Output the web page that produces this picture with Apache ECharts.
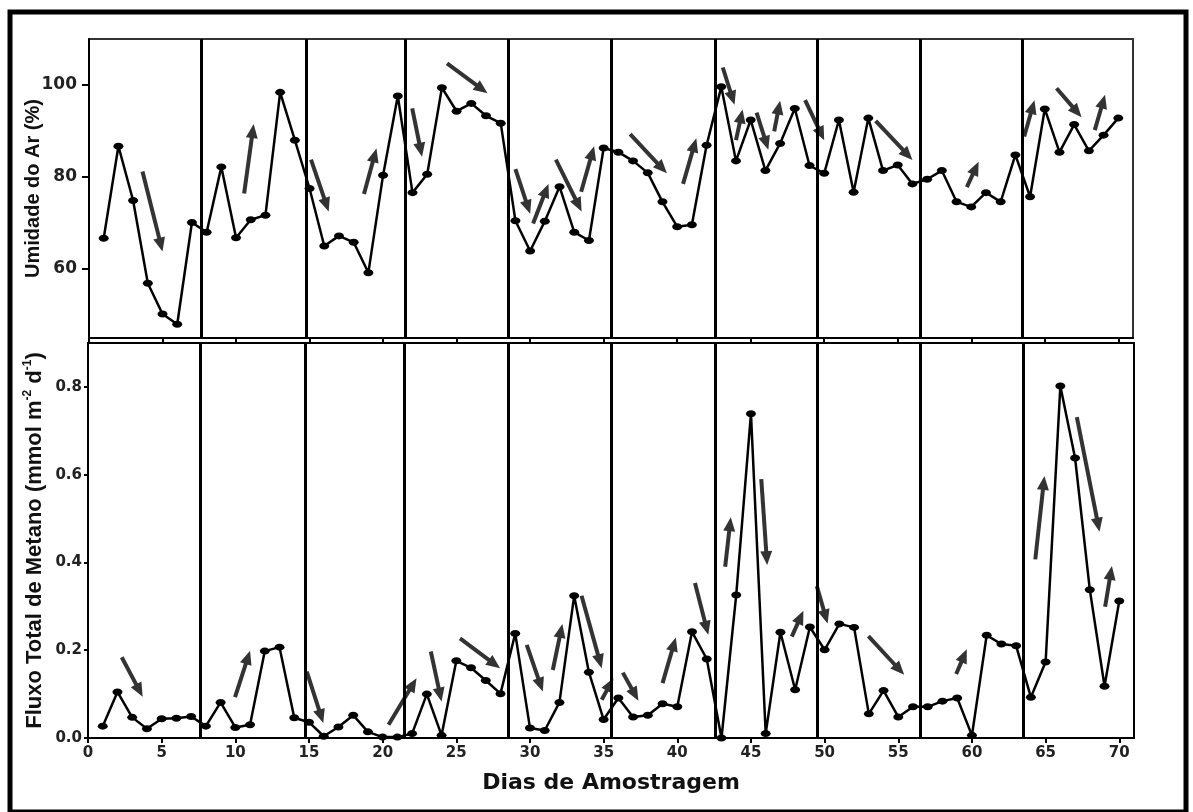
<!DOCTYPE html>
<html>
<head>
<meta charset="utf-8">
<script src="https://cdn.jsdelivr.net/npm/echarts@6/dist/echarts.min.js"></script>
<style>html,body{margin:0;padding:0;background:#fff;}#c{width:1193px;height:812px;}</style>
</head>
<body>
<div id="c"></div>
<script>
// ---- data ----
const days = [1,2,3,4,5,6,7,8,9,10,11,12,13,14,15,16,17,18,19,20,21,22,23,24,25,26,27,28,29,30,31,32,33,34,35,36,37,38,39,40,41,42,43,44,45,46,47,48,49,50,51,52,53,54,55,56,57,58,59,60,61,62,63,64,65,66,67,68,69,70];
const umidade = [66.7,86.7,74.9,56.9,50.2,48.0,70.1,68.0,82.2,66.8,70.7,71.7,98.4,88.0,77.5,65.0,67.2,65.8,59.2,80.4,97.6,76.6,80.6,99.4,94.3,96.0,93.3,91.7,70.5,63.9,70.4,77.9,68.0,66.2,86.3,85.4,83.5,80.9,74.6,69.2,69.6,86.9,99.6,83.5,92.4,81.4,87.3,94.9,82.5,80.8,92.4,76.7,92.8,81.4,82.6,78.5,79.5,81.4,74.6,73.5,76.6,74.6,84.8,75.7,94.8,85.4,91.4,85.7,89.1,92.8];
const metano = [0.027,0.105,0.047,0.021,0.044,0.045,0.049,0.027,0.081,0.024,0.030,0.198,0.207,0.046,0.036,0.004,0.025,0.052,0.014,0.002,0.002,0.010,0.100,0.006,0.176,0.160,0.131,0.101,0.238,0.023,0.017,0.081,0.324,0.150,0.042,0.091,0.048,0.052,0.078,0.071,0.242,0.180,0.000,0.326,0.739,0.010,0.241,0.110,0.253,0.201,0.260,0.252,0.055,0.108,0.048,0.071,0.071,0.084,0.091,0.006,0.234,0.214,0.210,0.093,0.173,0.802,0.638,0.338,0.118,0.312];
const periodBreaks = [7.6,14.75,21.5,28.5,35.5,42.6,49.5,56.5,63.5];
const xTicks = [0,5,10,15,20,25,30,35,40,45,50,55,60,65,70];
const yTicksUmidade = [60,80,100];
const yTicksMetano = [0,0.2,0.4,0.6,0.8];
// arrows: [xStart, yStart, xEnd, yEnd] in data units
const arrowsUmidade = [
  [3.64,81.2,5.0,63.8],[10.55,76.4,11.2,91.5],[15.1,83.8,16.3,72.5],[18.7,76.3,19.55,86.2],
  [21.98,94.9,22.65,84.4],[24.35,104.7,27.1,98.2],[29.0,81.7,30.0,72.0],[30.2,69.9,31.25,78.5],
  [31.75,83.8,33.5,72.5],[33.47,76.8,34.35,86.7],[36.8,89.3,39.3,80.8],[40.4,78.5,41.3,88.4],
  [43.1,103.8,43.9,95.7],[44.0,88.0,44.45,94.7],[45.4,94.0,46.2,85.9],[46.6,89.9,47.0,96.6],
  [48.7,96.7,50.0,88.0],[53.5,92.2,56.0,83.7],[59.7,77.8,60.5,83.3],[63.6,88.8,64.3,96.7],
  [65.8,99.3,67.5,93.0],[68.4,90.2,69.1,97.9]
];
const arrowsMetano = [
  [2.29,0.184,3.71,0.094],[9.98,0.093,11.0,0.199],[14.85,0.151,15.97,0.034],[20.4,0.03,22.3,0.136],
  [23.27,0.197,24.0,0.083],[25.25,0.227,27.97,0.159],[29.78,0.212,30.87,0.106],[31.55,0.155,32.2,0.26],
  [33.5,0.324,34.87,0.159],[34.87,0.087,35.66,0.136],[36.3,0.149,37.36,0.085],[39.0,0.125,39.9,0.229],
  [41.2,0.353,42.1,0.235],[43.25,0.39,43.63,0.503],[45.7,0.59,46.1,0.394],[47.77,0.231,48.56,0.29],
  [49.47,0.346,50.2,0.261],[52.97,0.232,55.4,0.144],[58.93,0.146,59.65,0.202],[64.3,0.407,64.92,0.597],
  [67.12,0.731,68.66,0.47],[69.04,0.299,69.5,0.392]
];

// ---- chart ----
const FONT = 'DejaVu Sans, Arial, sans-serif';
const NAMEFONT = 'Liberation Sans, Arial, sans-serif';
const chart = echarts.init(document.getElementById('c'), null, {renderer:'canvas'});

function renderArrow(params, api) {
  const p0 = api.coord([api.value(0), api.value(1)]);
  const p1 = api.coord([api.value(2), api.value(3)]);
  const dx = p1[0]-p0[0], dy = p1[1]-p0[1];
  const len = Math.hypot(dx, dy) || 1;
  const ux = dx/len, uy = dy/len;
  const hl = 14, hw = 6;
  const bx = p1[0]-ux*hl, by = p1[1]-uy*hl;
  return {type:'group', children:[
    {type:'line', shape:{x1:p0[0], y1:p0[1], x2:bx+ux*2, y2:by+uy*2}, style:{stroke:'#333', lineWidth:4}},
    {type:'polygon', shape:{points:[[p1[0],p1[1]],[bx-uy*hw, by+ux*hw],[bx+uy*hw, by-ux*hw]]}, style:{fill:'#333'}}
  ]};
}

const breakLine = {
  silent:true, symbol:'none', animation:false,
  label:{show:false},
  lineStyle:{color:'#000', width:3, type:'solid'},
  data: periodBreaks.map(v => ({xAxis:v}))
};

const xAxisBase = {
  type:'value', min:0, max:71,
  axisLine:{show:true, lineStyle:{color:'#000', width:2}},
  axisTick:{show:true, length:5, lineStyle:{color:'#000', width:2}, customValues:xTicks},
  splitLine:{show:false}
};

const option = {
  animation:false,
  backgroundColor:'#fff',
  graphic:[{type:'rect', shape:{x:10, y:12, width:1176, height:800}, style:{fill:'none', stroke:'#000', lineWidth:5}, silent:true}],
  grid:[
    {left:89, top:39, width:1044, height:299, show:true, borderColor:'#333', borderWidth:2, backgroundColor:'transparent'},
    {left:88, top:343, width:1046, height:395, show:true, borderColor:'#000', borderWidth:2, backgroundColor:'transparent'}
  ],
  xAxis:[
    Object.assign({}, xAxisBase, {gridIndex:0, axisLabel:{show:false}}),
    Object.assign({}, xAxisBase, {gridIndex:1,
      axisLabel:{show:true, customValues:xTicks, margin:8, color:'#222', fontFamily:FONT, fontWeight:'bold', fontSize:15},
      name:'Dias de Amostragem', nameLocation:'middle', nameGap:34, nameMoveOverlap:false,
      nameTextStyle:{color:'#111', fontFamily:FONT, fontWeight:'bold', fontSize:22}
    })
  ],
  yAxis:[
    {type:'value', gridIndex:0, min:45, max:110,
      axisLine:{show:true, lineStyle:{color:'#000', width:2}},
      axisTick:{show:true, length:7, lineStyle:{color:'#000', width:2}, customValues:yTicksUmidade},
      axisLabel:{customValues:yTicksUmidade, margin:12, color:'#222', fontFamily:FONT, fontWeight:'bold', fontSize:17},
      splitLine:{show:false},
      name:'Umidade do Ar (%)', nameLocation:'middle', nameGap:46, nameMoveOverlap:false,
      nameTextStyle:{color:'#111', fontFamily:NAMEFONT, fontWeight:'bold', fontSize:20}
    },
    {type:'value', gridIndex:1, min:0, max:0.9,
      axisLine:{show:true, lineStyle:{color:'#000', width:2}},
      axisTick:{show:true, length:4, lineStyle:{color:'#000', width:2}, customValues:yTicksMetano},
      axisLabel:{customValues:yTicksMetano, margin:6, color:'#222', fontFamily:FONT, fontWeight:'bold', fontSize:15,
        formatter:v => v.toFixed(1)},
      splitLine:{show:false},
      name:'Fluxo Total de Metano (mmol m{s|-2} d{s|-1})', nameLocation:'middle', nameGap:40, nameMoveOverlap:false,
      nameTextStyle:{color:'#111', fontFamily:NAMEFONT, fontWeight:'bold', fontSize:22, lineHeight:26,
        rich:{s:{fontFamily:NAMEFONT, fontWeight:'bold', fontSize:12, color:'#111', verticalAlign:'top', lineHeight:26}}}
    }
  ],
  series:[
    {type:'line', xAxisIndex:0, yAxisIndex:0, data:days.map((d,i)=>[d, umidade[i]]),
      symbol:'circle', symbolSize:[10,7], itemStyle:{color:'#000'}, lineStyle:{color:'#000', width:2.5},
      markLine:breakLine, z:3},
    {type:'line', xAxisIndex:1, yAxisIndex:1, data:days.map((d,i)=>[d, metano[i]]),
      symbol:'circle', symbolSize:[10,7], itemStyle:{color:'#000'}, lineStyle:{color:'#000', width:2.5},
      markLine:breakLine, z:3},
    {type:'custom', xAxisIndex:0, yAxisIndex:0, data:arrowsUmidade, renderItem:renderArrow,
      encode:{x:[0,2], y:[1,3]}, silent:true, z:4},
    {type:'custom', xAxisIndex:1, yAxisIndex:1, data:arrowsMetano, renderItem:renderArrow,
      encode:{x:[0,2], y:[1,3]}, silent:true, z:4}
  ]
};
chart.setOption(option);
</script>
</body>
</html>
